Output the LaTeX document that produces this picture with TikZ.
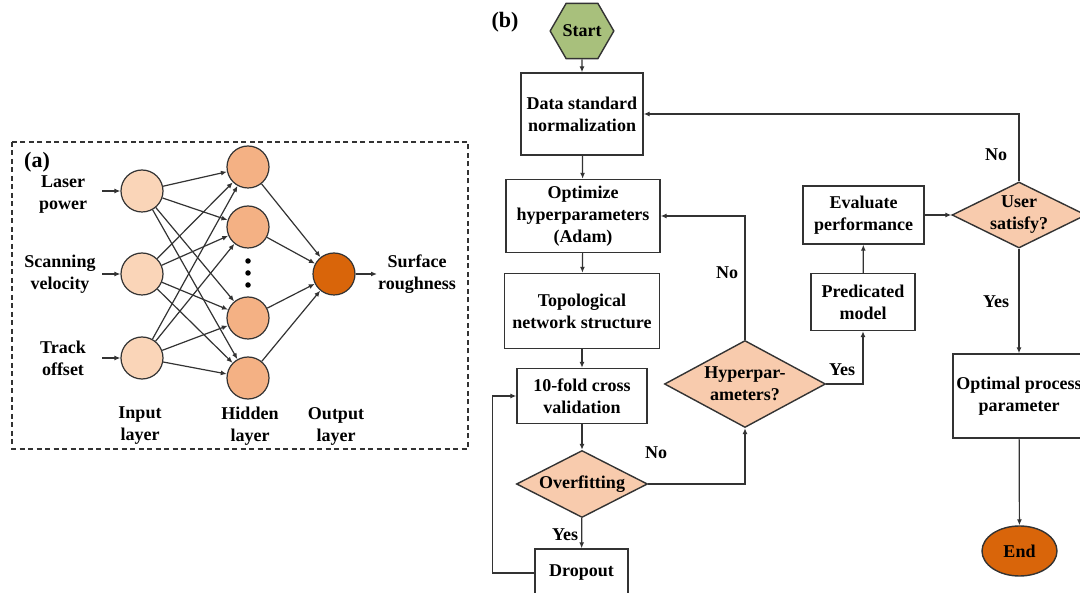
\documentclass[tikz,border=0pt]{standalone}
\usepackage{fontspec}
\setmainfont{Liberation Serif}
\usetikzlibrary{shapes.geometric,arrows.meta}
\definecolor{inpfill}{HTML}{FAD5B8}
\definecolor{hidfill}{HTML}{F4B184}
\definecolor{outfill}{HTML}{D9650A}
\definecolor{diafill}{HTML}{F8CBAD}
\definecolor{startfill}{HTML}{A8C07C}
\definecolor{linec}{HTML}{333333}
\begin{document}
\begin{tikzpicture}[x=1pt,y=-1pt,
  font=\fontsize{18}{22}\selectfont\bfseries,
  box/.style={draw=linec, line width=1.4pt, fill=white, align=center, inner sep=0pt},
  dia/.style={diamond, aspect=2, draw=linec, line width=1.4pt, fill=diafill, inner sep=0pt},
  arr/.style={-{Latex[length=6pt,width=5pt]}, line width=1.2pt, draw=linec},
  neuron/.style={circle, draw=linec, line width=1.2pt, minimum size=42pt, inner sep=0pt},
  lbl/.style={align=center, inner sep=0pt},
  dotn/.style={circle, fill=black, minimum size=5.5pt, inner sep=0pt}]
\useasboundingbox (0,0) rectangle (1080,593);
\clip (0,0) rectangle (1080,593);
\fill[white] (0,0) rectangle (1080,593);

% ---------------- (a) ----------------
\draw[dashed, dash pattern=on 5pt off 3.5pt, line width=1.3pt, draw=linec] (12,142) rectangle (468,449);
\node[lbl, font=\fontsize{22}{24}\selectfont\bfseries] (la) at (37,162) {(a)};

\node[neuron, fill=inpfill] (i1) at (142,191) {};
\node[neuron, fill=inpfill] (i2) at (142,274) {};
\node[neuron, fill=inpfill] (i3) at (142,358) {};
\node[neuron, fill=hidfill] (h1) at (248,167) {};
\node[neuron, fill=hidfill] (h2) at (248,227) {};
\node[neuron, fill=hidfill] (h3) at (248,318) {};
\node[neuron, fill=hidfill] (h4) at (248,378) {};
\node[neuron, fill=outfill] (o1) at (334,274) {};
\node[dotn] (d1) at (248,261) {};
\node[dotn] (d2) at (248,273) {};
\node[dotn] (d3) at (248,285) {};

\foreach \i in {1,2,3}{
  \foreach \h in {1,2,3,4}{
    \draw[arr] (i\i) -- (h\h);
  }
}
\foreach \h in {1,2,3,4}{
  \draw[arr] (h\h) -- (o1);
}

\node[lbl] (tlp) at (63,195) {Laser\\power};
\node[lbl] (tsv) at (60,274) {Scanning\\velocity};
\node[lbl] (tto) at (63,358) {Track\\offset};
\coordinate (s1) at (102,191);
\coordinate (s2) at (102,274);
\coordinate (s3) at (102,358);
\draw[arr] (s1) -- (i1);
\draw[arr] (s2) -- (i2);
\draw[arr] (s3) -- (i3);
\node[lbl] (tsr) at (417,274) {Surface\\roughness};
\coordinate (e1) at (377,274);
\draw[arr] (o1) -- (e1);
\node[lbl] (til) at (140,426) {Input\\layer};
\node[lbl] (thl) at (250,426) {Hidden\\layer};
\node[lbl] (tol) at (336,426) {Output\\layer};

% ---------------- (b) ----------------
\node[lbl, font=\fontsize{22}{24}\selectfont\bfseries] (lb) at (505,22) {(b)};

\node[regular polygon, regular polygon sides=6, minimum size=53pt, inner sep=0pt,
      draw=linec, line width=1.4pt, fill=startfill] (start) at (582,31) {Start};
\node[box, minimum width=122pt, minimum height=82pt] (data) at (582,114) {Data standard\\normalization};
\node[box, minimum width=154pt, minimum height=73pt] (opt) at (583,216) {Optimize\\hyperparameters\\(Adam)};
\node[box, minimum width=155pt, minimum height=75pt] (topo) at (582,311) {Topological\\network structure};
\node[box, minimum width=130pt, minimum height=55pt] (cv) at (582,396) {10-fold cross\\validation};
\node[dia, minimum width=131pt, minimum height=67pt,
      label={[lbl]center:Overfitting}] (over) at (582,484) {};
\node[box, minimum width=93pt, minimum height=48pt] (drop) at (581.5,573) {Dropout};
\node[dia, minimum width=161pt, minimum height=87pt,
      label={[lbl]center:Hyperpar-\\ameters?}] (hyp) at (745,384) {};
\node[box, minimum width=104pt, minimum height=57pt] (pred) at (863,302) {Predicated\\model};
\node[box, minimum width=121pt, minimum height=58pt] (eval) at (863.5,215) {Evaluate\\performance};
\node[dia, minimum width=134pt, minimum height=66pt,
      label={[lbl]center:User\\satisfy?}] (user) at (1019,215) {};
\node[box, minimum width=132pt, minimum height=84pt] (optp) at (1019,396) {Optimal process\\parameter};
\node[ellipse, minimum width=75pt, minimum height=50pt, inner sep=0pt,
      draw=linec, line width=1.4pt, fill=outfill] (end) at (1019.5,551) {End};

\draw[arr] (start) -- (data);
\draw[arr] (data) -- (opt);
\draw[arr] (opt) -- (topo);
\draw[arr] (topo) -- (cv);
\draw[arr] (cv) -- (over);
\draw[arr] (over) -- (drop);
\draw[arr] (drop.west) -- ++(-42,0) |- (cv.west);
\draw[arr] (over.east) -| (hyp.south);
\draw[arr] (hyp.north) |- (opt.east);
\draw[arr] (hyp.east) -| (pred.south);
\draw[arr] (pred) -- (eval);
\draw[arr] (eval) -- (user);
\draw[arr] (user.north) |- (data.east);
\draw[arr] (user) -- (optp);
\draw[arr] (optp) -- (end);

\node[lbl] (ly1) at (565,535) {Yes};
\node[lbl] (ln1) at (656,453) {No};
\node[lbl] (ln2) at (727,273) {No};
\node[lbl] (ly2) at (842,370) {Yes};
\node[lbl] (ln3) at (996,155) {No};
\node[lbl] (ly3) at (996,302) {Yes};
\end{tikzpicture}
\end{document}
